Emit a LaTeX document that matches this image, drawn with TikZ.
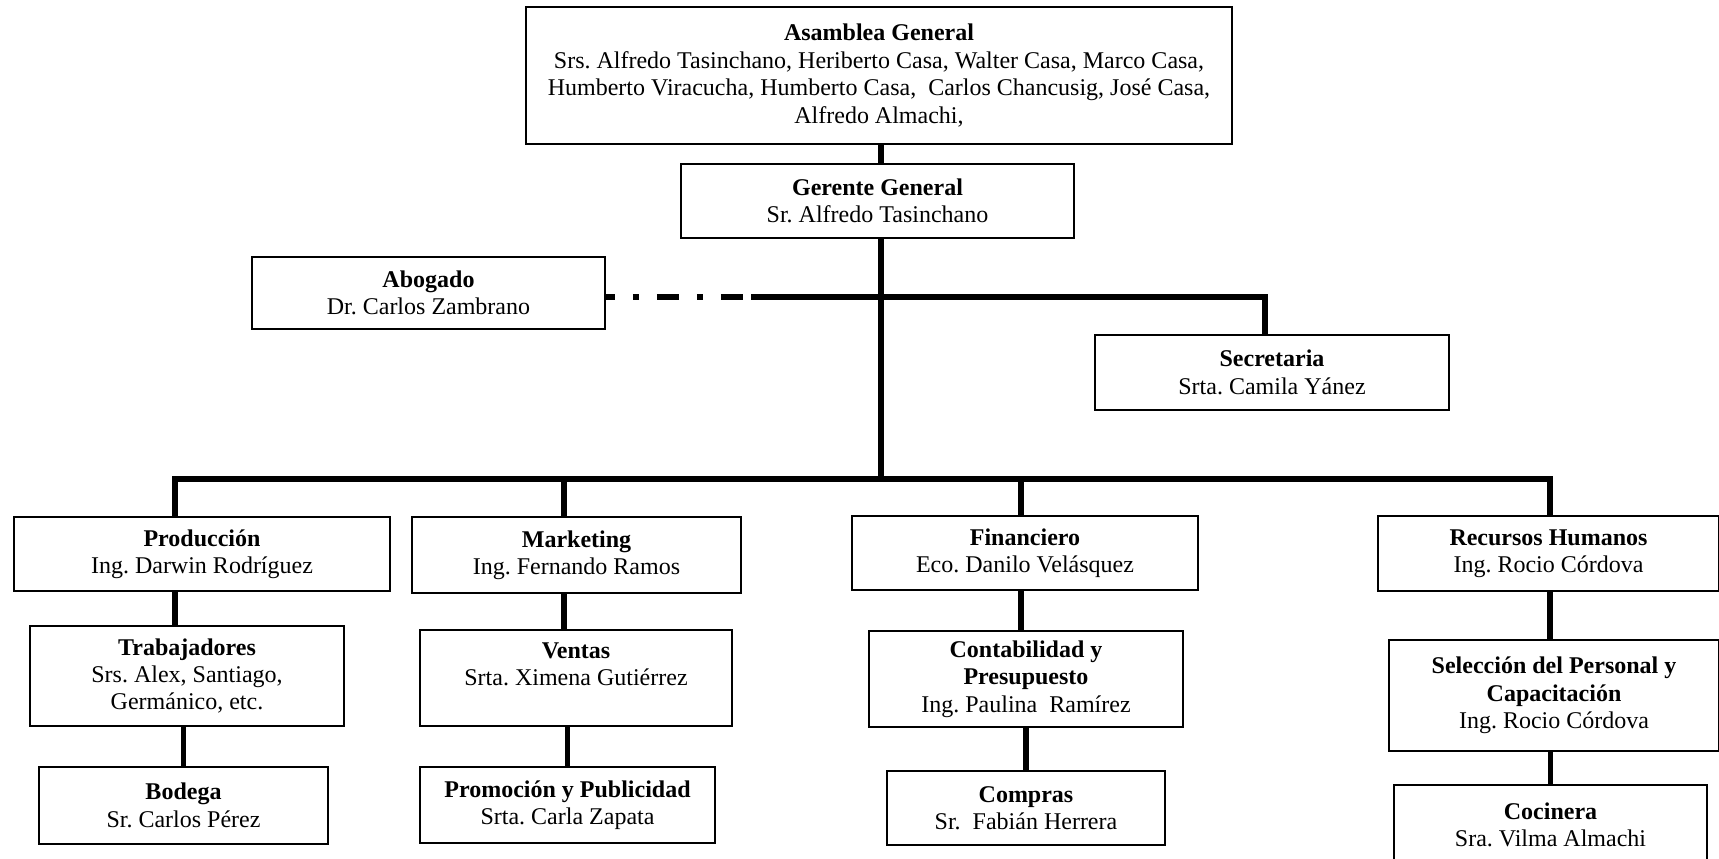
\documentclass[tikz,border=0pt]{standalone}
\usepackage{fontspec}
\setmainfont{Liberation Serif}
\frenchspacing
\usetikzlibrary{positioning, calc}
\tikzset{unit/.style={draw, line width=.9pt, align=center, inner sep=0pt, font=\fontsize{12}{13.7}\selectfont}}
\tikzset{boxsize/.style 2 args={minimum width=#1*.5pt, minimum height=#2*.5pt}}
\tikzset{link/.style={line width=2.8pt, line join=miter}}
\tikzset{advice/.style={link, dash pattern=on 11pt off 9pt on 3pt off 9pt, dash phase=6.5pt}}

\begin{document}
\begin{tikzpicture}[x=.5pt, y=-.5pt]
  \useasboundingbox (0,0) rectangle (1719,858);
  \clip (0,0) rectangle (1719,858);

  % direction
  \node[unit, boxsize={706}{137}] (asam) at (879,75.5) {\textbf{Asamblea General}\\
    Srs. Alfredo Tasinchano, Heriberto Casa, Walter Casa, Marco Casa,\\
    Humberto Viracucha, Humberto Casa,\ \ Carlos Chancusig, José Casa,\\
    Alfredo Almachi,};
  \node[unit, boxsize={393}{74}] (ger) at (877.5,201) {\textbf{Gerente General}\\ Sr. Alfredo Tasinchano};
  \node[unit, boxsize={353}{72}] (abog) at (428.5,293) {\textbf{Abogado}\\ Dr. Carlos Zambrano};
  \node[unit, boxsize={354}{75}] (secr) at (1272,372.5) {\textbf{Secretaria}\\ Srta. Camila Yánez};

  % departamentos
  \node[unit, boxsize={376}{74}] (prod) at (202,554) {\textbf{Producción}\\ Ing. Darwin Rodríguez};
  \node[unit, boxsize={329}{76}] (mark) at (576.5,555) {\textbf{Marketing}\\ Ing. Fernando Ramos};
  \node[unit, boxsize={346}{74}] (fin) at (1025,553) {\textbf{Financiero}\\ Eco. Danilo Velásquez};
  \node[unit, boxsize={341}{75}] (rrhh) at (1548.5,553.5) {\textbf{Recursos Humanos}\\ Ing. Rocio Córdova};

  % secciones
  \node[unit, boxsize={314}{100}] (trab) at (187,676) {\textbf{Trabajadores}\\ Srs. Alex, Santiago,\\ Germánico, etc.};
  \node[unit, boxsize={312}{96}] (vent) at (576,678) {\textbf{Ventas}\\ Srta. Ximena Gutiérrez\\ \mbox{}};
  \node[unit, boxsize={314}{96}] (cont) at (1026,679) {\textbf{Contabilidad y}\\ \textbf{Presupuesto}\\ Ing. Paulina\ \ Ramírez};
  \node[unit, boxsize={330}{111}] (selc) at (1554,695.5) {\textbf{Selección del Personal y}\\ \textbf{Capacitación}\\ Ing. Rocio Córdova};

  \node[unit, boxsize={289}{77}] (bod) at (183.5,805.5) {\textbf{Bodega}\\ Sr. Carlos Pérez};
  \node[unit, boxsize={295}{76}] (prom) at (567.5,805) {\textbf{Promoción y Publicidad}\\ Srta. Carla Zapata};
  \node[unit, boxsize={278}{74}] (comp) at (1026,808) {\textbf{Compras}\\ Sr.\ \ Fabián Herrera};
  \node[unit, boxsize={313}{80}] (coc) at (1550.5,825) {\textbf{Cocinera}\\ Sra. Vilma Almachi};

  \coordinate (trunk) at (881,479);
  \coordinate (c1) at (175,479);
  \coordinate (c2) at (564,479);
  \coordinate (c3) at (1021,479);
  \coordinate (c4) at (1550,479);
  \coordinate (abj) at (751,297);
  \coordinate (sbend) at (1265,297);

  \draw[link] (asam.south -| trunk) -- (ger.north -| trunk);
  \draw[link] (ger.south -| trunk) -- (trunk);
  \draw[advice] (abog.east |- abj) -- (abj);
  \draw[link] (abj) -- (sbend) -- (secr.north -| sbend);

  \draw[link] (prod.north -| c1) -- (c1) -- (c4) -- (rrhh.north -| c4);
  \draw[link] (c2) -- (mark.north -| c2);
  \draw[link] (c3) -- (fin.north -| c3);

  \draw[link] (prod.south -| c1) -- (trab.north -| c1);
  \draw[link] (trab.south -| bod) -- (bod.north);
  \draw[link] (mark.south -| c2) -- (vent.north -| c2);
  \draw[link] (vent.south -| prom) -- (prom.north);
  \draw[link] (fin.south -| c3) -- (cont.north -| c3);
  \draw[link] (cont.south -| comp) -- (comp.north);
  \draw[link] (rrhh.south -| c4) -- (selc.north -| c4);
  \draw[link] (selc.south -| coc) -- (coc.north);
\end{tikzpicture}
\end{document}
